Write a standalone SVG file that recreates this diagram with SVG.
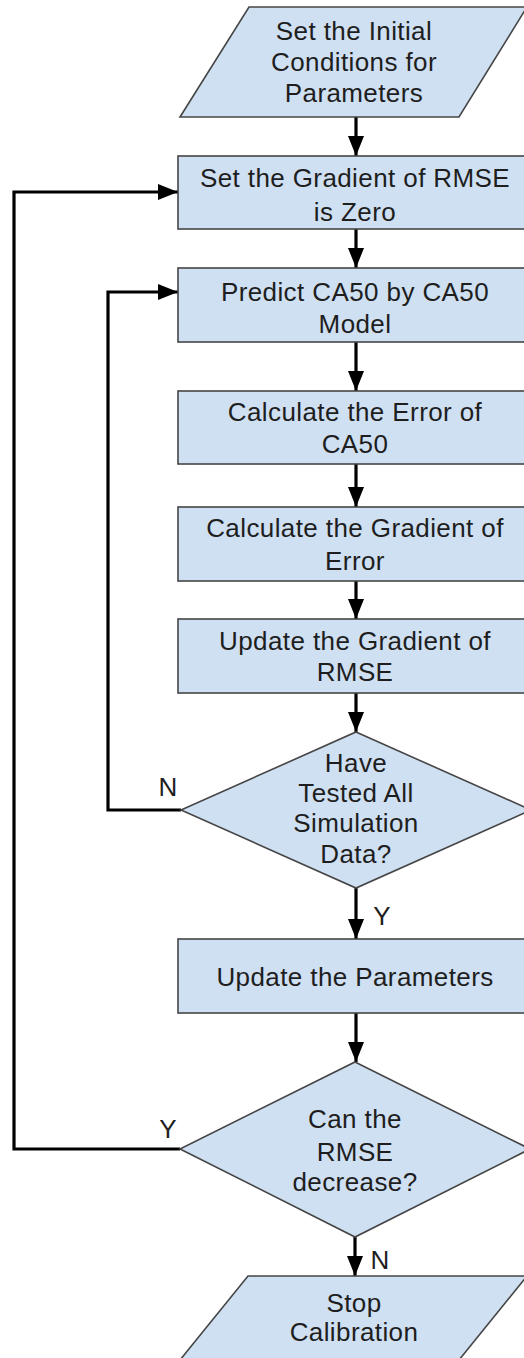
<svg xmlns="http://www.w3.org/2000/svg" width="524" height="1358" viewBox="0 0 524 1358">
<defs>
<style>
.node{fill:#cfe0f2;stroke:#454545;stroke-width:1.6}
.t{font-family:"Liberation Sans",Arial,sans-serif;font-size:26px;letter-spacing:0.4px;fill:#1e1e1e;text-anchor:middle}
.c{fill:none;stroke:#000;stroke-width:3.2}
</style>
<marker id="ah" markerUnits="userSpaceOnUse" viewBox="0 0 20 16" markerWidth="20" markerHeight="16" refX="20" refY="8" orient="auto">
<path d="M0,0 L20,8 L0,16 z" fill="#000"/>
</marker>
</defs>
<rect width="524" height="1358" fill="#fff"/>
<g id="connectors">
<line class="c" x1="356" y1="117" x2="356" y2="156" marker-end="url(#ah)"/>
<line class="c" x1="356" y1="229" x2="356" y2="268" marker-end="url(#ah)"/>
<line class="c" x1="356" y1="342" x2="356" y2="391" marker-end="url(#ah)"/>
<line class="c" x1="356" y1="464" x2="356" y2="507" marker-end="url(#ah)"/>
<line class="c" x1="356" y1="581" x2="356" y2="619" marker-end="url(#ah)"/>
<line class="c" x1="356" y1="693" x2="356" y2="732" marker-end="url(#ah)"/>
<line class="c" x1="356" y1="888" x2="356" y2="939" marker-end="url(#ah)"/>
<line class="c" x1="356" y1="1013" x2="356" y2="1062" marker-end="url(#ah)"/>
<line class="c" x1="355" y1="1237" x2="355" y2="1276" marker-end="url(#ah)"/>
<polyline class="c" points="181,810 108,810 108,292 178,292" marker-end="url(#ah)"/>
<polyline class="c" points="180,1149 14,1149 14,192 178,192" marker-end="url(#ah)"/>
<text class="t" x="168" y="796">N</text>
<text class="t" x="382" y="925">Y</text>
<text class="t" x="168" y="1138">Y</text>
<text class="t" x="380" y="1269">N</text>
</g>
<g id="start">
<polygon class="node" points="249,7 527,7 459,117 180,117"/>
<text class="t" x="354" y="40">Set the Initial</text>
<text class="t" x="354" y="71">Conditions for</text>
<text class="t" x="354" y="102">Parameters</text>
</g>
<g id="set-gradient">
<rect class="node" x="178" y="156" width="356" height="73"/>
<text class="t" x="355" y="187">Set the Gradient of RMSE</text>
<text class="t" x="355" y="221">is Zero</text>
</g>
<g id="predict">
<rect class="node" x="178" y="268" width="356" height="74"/>
<text class="t" x="355" y="301">Predict CA50 by CA50</text>
<text class="t" x="355" y="333">Model</text>
</g>
<g id="calc-error">
<rect class="node" x="178" y="391" width="356" height="73"/>
<text class="t" x="355" y="421">Calculate the Error of</text>
<text class="t" x="355" y="453">CA50</text>
</g>
<g id="calc-gradient">
<rect class="node" x="178" y="507" width="356" height="74"/>
<text class="t" x="355" y="537">Calculate the Gradient of</text>
<text class="t" x="355" y="570">Error</text>
</g>
<g id="update-gradient">
<rect class="node" x="178" y="619" width="356" height="74"/>
<text class="t" x="355" y="650">Update the Gradient of</text>
<text class="t" x="355" y="681">RMSE</text>
</g>
<g id="tested-all">
<polygon class="node" points="356,732 531,810 356,888 181,810"/>
<text class="t" x="356" y="772">Have</text>
<text class="t" x="356" y="802">Tested All</text>
<text class="t" x="356" y="832">Simulation</text>
<text class="t" x="356" y="863">Data?</text>
</g>
<g id="update-params">
<rect class="node" x="178" y="939" width="356" height="74"/>
<text class="t" x="355" y="986">Update the Parameters</text>
</g>
<g id="rmse-decrease">
<polygon class="node" points="355,1062 530,1149 355,1237 180,1149"/>
<text class="t" x="355" y="1128">Can the</text>
<text class="t" x="355" y="1161">RMSE</text>
<text class="t" x="355" y="1191">decrease?</text>
</g>
<g id="stop">
<polygon class="node" points="248,1276 527,1276 459,1360 180,1360"/>
<text class="t" x="354" y="1312">Stop</text>
<text class="t" x="354" y="1341">Calibration</text>
</g>
</svg>
